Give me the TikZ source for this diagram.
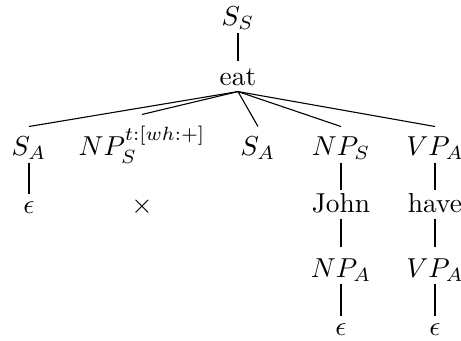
\documentclass[tikz,border=0pt]{standalone}
\begin{document}
\begin{tikzpicture}[x=0.365pt,y=-0.365pt,
  tn/.style 2 args={anchor=base,inner sep=0pt,text height=#1,text depth=#2},
  edge/.style={draw=black,line width=0.4pt}]
\useasboundingbox (0,0) rectangle (461,340);
\node[tn={7pt}{2.9pt}] (root) at (238,25) {$S_S$};
\node[tn={8.4pt}{2.2pt}] (eat) at (238,85) {eat};
\node[tn={10.2pt}{2.6pt}] (c1) at (29,155) {$S_A$};
\node[tn={14.6pt}{2.6pt}] (c2) at (142,155) {$NP_S^{t:[wh:+]}$};
\node[tn={10.2pt}{2.6pt}] (c3) at (258,155) {$S_A$};
\node[tn={10.2pt}{2.6pt}] (c4) at (341,155) {$NP_S$};
\node[tn={10.2pt}{2.6pt}] (c5) at (435,155) {$VP_A$};
\node[tn={6.6pt}{1pt}] (e1) at (29,213) {$\epsilon$};
\node[tn={6.6pt}{1pt}] (x2) at (142,213) {$\times$};
\node[tn={8pt}{2.2pt}] (john) at (341,212) {John};
\node[tn={8pt}{2.2pt}] (have) at (435,212) {have};
\node[tn={10.6pt}{2.2pt}] (npa) at (341,277) {$NP_A$};
\node[tn={10.6pt}{2.2pt}] (vpa) at (435,277) {$VP_A$};
\node[tn={6.6pt}{1pt}] (e4) at (341,335) {$\epsilon$};
\node[tn={6.6pt}{1pt}] (e5) at (435,335) {$\epsilon$};
\draw[edge] (root.south) -- (eat.north);
\foreach \c in {c1,c2,c3,c4,c5} \draw[edge] (eat.south) -- (\c.north);
\draw[edge] (c1.south) -- (e1.north);
\draw[edge] (c4.south) -- (john.north);
\draw[edge] (c5.south) -- (have.north);
\draw[edge] (john.south) -- (npa.north);
\draw[edge] (have.south) -- (vpa.north);
\draw[edge] (npa.south) -- (e4.north);
\draw[edge] (vpa.south) -- (e5.north);
\end{tikzpicture}
\end{document}
